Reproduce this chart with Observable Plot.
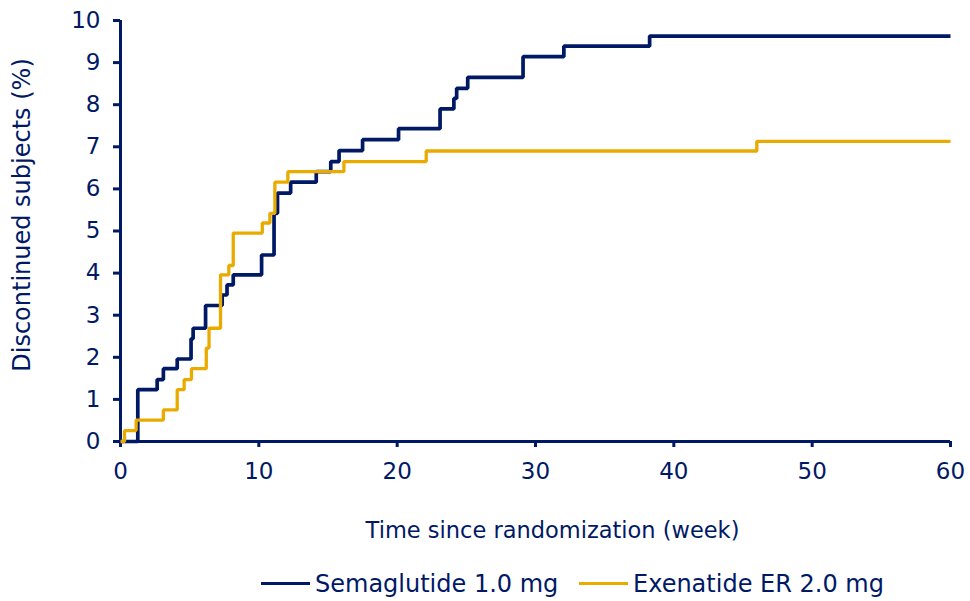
<!DOCTYPE html>
<html>
<head>
<meta charset="utf-8">
<script src="https://cdn.jsdelivr.net/npm/d3@7"></script>
<script src="https://cdn.jsdelivr.net/npm/@observablehq/plot@0.6"></script>
<style>
  html, body { margin: 0; padding: 0; background: #fff; }
  body { font-family: "DejaVu Sans", Verdana, sans-serif; color: #001965; width: 970px; }
  #legend { position: relative; height: 41px; width: 970px; }
  .item { position: absolute; top: 3px; height: 41px; display: flex; align-items: center; font-size: 24px; color: #001965; white-space: nowrap; }
  .swatch { width: 49px; height: 3.5px; margin-right: 5px; }
</style>
</head>
<body>
<div id="chart"></div>
<div id="legend"></div>
<script>
// ---- Data ----
const seriesNames = ["Semaglutide 1.0 mg", "Exenatide ER 2.0 mg"];
const seriesColors = ["#001965", "#EAAB00"];

const semaWeek = [0, 1.25, 2.65, 3.1, 4.1, 5.1, 5.25, 6.15, 7.35, 7.7, 8.15, 10.2, 11.1, 11.35, 12.3, 14.15, 15.2, 15.8, 17.5, 20.1, 23.1, 24.1, 24.3, 25.1, 29.1, 32.05, 38.25, 60];
const semaPct  = [0, 1.23, 1.47, 1.73, 1.96, 2.44, 2.69, 3.23, 3.48, 3.72, 3.96, 4.43, 5.42, 5.9, 6.16, 6.41, 6.65, 6.91, 7.17, 7.43, 7.9, 8.15, 8.39, 8.65, 9.14, 9.39, 9.63, 9.63];

const exenWeek = [0, 0.29, 1.13, 3.1, 4.1, 4.6, 5.13, 6.2, 6.4, 7.23, 7.83, 8.15, 10.25, 10.8, 11.16, 12.1, 16.15, 22.1, 46.0, 60];
const exenPct  = [0, 0.26, 0.51, 0.75, 1.23, 1.47, 1.73, 2.22, 2.69, 3.96, 4.18, 4.95, 5.19, 5.42, 6.16, 6.41, 6.65, 6.9, 7.13, 7.13];

const xTicks = [0, 10, 20, 30, 40, 50, 60];
const yTicks = [0, 1, 2, 3, 4, 5, 6, 7, 8, 9, 10];
const xTitle = "Time since randomization (week)";
const yTitle = "Discontinued subjects (%)";

// ---- Build rows ----
const sema = semaWeek.map((w, i) => ({series: seriesNames[0], week: w, pct: semaPct[i]}));
const exen = exenWeek.map((w, i) => ({series: seriesNames[1], week: w, pct: exenPct[i]}));

const navy = "#001965";

const chart = Plot.plot({
  width: 970,
  height: 560,
  marginLeft: 120,
  marginRight: 20,
  marginTop: 20,
  marginBottom: 119,
  style: { fontFamily: "'DejaVu Sans', Verdana, sans-serif", fontSize: "23px", color: navy, background: "#fff", overflow: "visible" },
  x: { domain: [0, 60] },
  y: { domain: [0, 10] },
  color: { domain: seriesNames, range: seriesColors },
  marks: [
    Plot.axisX({ ticks: xTicks, tickSize: 6, tickPadding: 15, stroke: navy, strokeWidth: 3, fontSize: 23, label: null }),
    Plot.axisY({ ticks: yTicks, tickSize: 7, tickPadding: 13, stroke: navy, strokeWidth: 3, fontSize: 23, label: null }),
    Plot.ruleX([0], { stroke: navy, strokeWidth: 3 }),
    Plot.ruleY([0], { stroke: navy, strokeWidth: 3 }),
    Plot.line(sema, { x: "week", y: "pct", stroke: "series", strokeWidth: 3.7, curve: "step-after", strokeLinejoin: "miter", strokeLinecap: "butt" }),
    Plot.line(exen, { x: "week", y: "pct", stroke: "series", strokeWidth: 3.3, curve: "step-after", strokeLinejoin: "miter", strokeLinecap: "butt" }),
    Plot.text([xTitle], { frameAnchor: "bottom", textAnchor: "middle", dx: 17, dy: 96, fontSize: 22.5, fill: navy }),
    Plot.text([yTitle], { frameAnchor: "left", textAnchor: "middle", rotate: -90, dx: -98, dy: -16, fontSize: 24, fill: navy })
  ]
});
document.getElementById("chart").appendChild(chart);

// ---- Legend ----
const legendLeft = [261, 579];
const legend = document.getElementById("legend");
seriesNames.forEach((name, i) => {
  const item = document.createElement("div");
  item.className = "item";
  item.style.left = legendLeft[i] + "px";
  const sw = document.createElement("span");
  sw.className = "swatch";
  sw.style.background = seriesColors[i];
  item.appendChild(sw);
  item.appendChild(document.createTextNode(name));
  legend.appendChild(item);
});
</script>
</body>
</html>
